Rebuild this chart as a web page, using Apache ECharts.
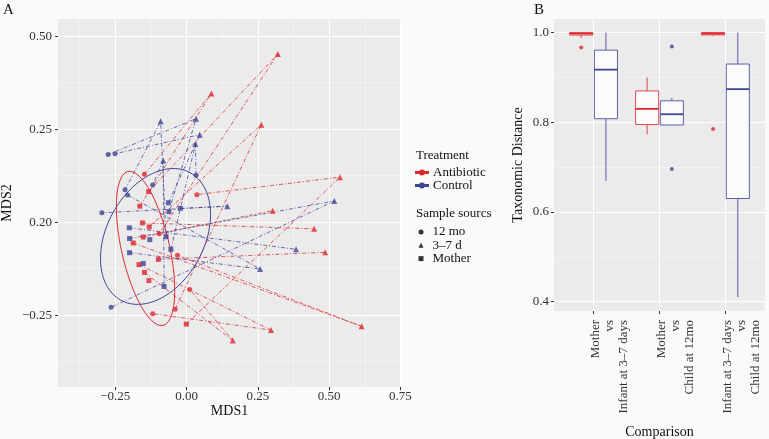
<!DOCTYPE html>
<html><head><meta charset="utf-8">
<script src="https://cdn.jsdelivr.net/npm/echarts@6/dist/echarts.min.js"></script>
<style>html,body{margin:0;padding:0;background:#fafafa}#c{width:769px;height:439px}</style>
</head><body><div id="c"></div>
<script>
// ---------- Panel A data (MDS1, MDS2) ----------
const antibioticMother = [[-0.133,0.082],[-0.164,0.043],[-0.155,-0.002],[-0.131,-0.013],[-0.152,-0.040],[-0.187,-0.056],[-0.099,-0.100],[-0.167,-0.114],[-0.148,-0.135],[-0.132,-0.157],[-0.001,-0.274]];
const antibioticInfant = [[0.320,0.452],[0.087,0.346],[0.262,0.262],[0.538,0.121],[0.302,0.031],[0.447,-0.018],[0.486,-0.081],[0.614,-0.280],[0.296,-0.290],[0.162,-0.318]];
const antibioticChild = [[-0.148,0.129],[0.036,0.074],[-0.096,-0.031],[-0.032,-0.089],[0.011,-0.181],[-0.040,-0.234],[-0.119,-0.246]];
const controlMother = [[-0.064,0.052],[-0.022,0.037],[-0.062,0.028],[-0.201,-0.015],[-0.072,-0.039],[-0.200,-0.044],[-0.129,-0.047],[-0.055,-0.073],[-0.200,-0.082],[-0.152,-0.111],[-0.079,-0.173]];
const controlInfant = [[-0.091,0.271],[0.033,0.278],[0.046,0.235],[-0.082,0.166],[0.031,0.210],[0.518,0.057],[0.143,0.043],[0.384,-0.073],[0.258,-0.126]];
const controlChild = [[-0.275,0.182],[-0.251,0.184],[0.033,0.126],[-0.119,0.100],[-0.216,0.087],[-0.207,0.073],[-0.297,0.025],[-0.265,-0.229]];
// subject paths: [mother index, 3-7 d index, 12 mo index] (-1 = missing)
const antibioticPaths = [[0,0,2],[1,1,0],[3,2,5],[10,3,1],[4,4,-1],[2,5,-1],[6,6,-1],[5,7,3],[7,8,6],[8,9,4]];
const controlPaths = [[2,1,0],[0,2,1],[4,0,4],[10,3,3],[7,4,2],[5,5,7],[1,6,6],[3,7,-1],[8,8,5]];
// confidence ellipses: centre and two conjugate semi-axes (data units)
const antibioticEllipse = {center:[-0.144,-0.0706], a:[-0.0614,0.2068], b:[0.082,0.0143]};
const controlEllipse = {center:[-0.109,-0.0384], a:[0.193,0.0591], b:[0,-0.1727]};
const xTicksA = [-0.25,0,0.25,0.5,0.75];
const xTickLabelsA = ['\u22120.25','0.00','0.25','0.50','0.75'];
const yTicksA = [-0.25,0,0.25,0.5];
const yTickLabelsA = ['\u22120.25','0.20','0.25','0.50'];

// ---------- Panel B data ----------
const comparisons = ['Mother\nvs\nInfant at 3\u20137 days','Mother\nvs\nChild at 12mo','Infant at 3\u20137 days\nvs\nChild at 12mo'];
// [min, Q1, median, Q3, max]
const antibioticBox = [[0.988,0.9947,0.998,1.0,1.0],[0.773,0.795,0.830,0.870,0.900],[0.992,0.995,0.998,1.0,1.0]];
const controlBox = [[0.669,0.808,0.9175,0.961,1.0],[0.793,0.794,0.818,0.848,0.854],[0.410,0.630,0.874,0.930,1.0]];
const antibioticOutliers = [[1,0.967],[3,0.785]];
const controlOutliers = [[2,0.969],[2,0.696]];
const yTicksB = [0.4,0.6,0.8,1.0];

const RED='#e0262c', BLUE='#3d4595';
const RED_BOX='#e0474c', BLUE_BOX='#5b60a6';
const FONT='Liberation Serif';

function ellipsePoints(e){
  const pts=[];
  for(let i=0;i<=120;i++){const t=i/120*2*Math.PI;
    pts.push([e.center[0]+e.a[0]*Math.cos(t)+e.b[0]*Math.sin(t), e.center[1]+e.a[1]*Math.cos(t)+e.b[1]*Math.sin(t)]);}
  return pts;
}
function pathData(paths,M,T,C){
  return paths.map(p=>{const c=[];
    if(p[0]>=0)c.push(M[p[0]]); if(p[1]>=0)c.push(T[p[1]]); if(p[2]>=0)c.push(C[p[2]]);
    return {coords:c};});
}
function boxRender(offset, stroke, medColor){
  return function(params, api){
    const x=api.value(0)+offset;
    const lo=api.coord([x,api.value(1)]), q1=api.coord([x,api.value(2)]), md=api.coord([x,api.value(3)]), q3=api.coord([x,api.value(4)]), hi=api.coord([x,api.value(5)]);
    const half=api.size([0.35,0])[0]/2;
    return {type:'group',children:[
      {type:'line',shape:{x1:lo[0],y1:lo[1],x2:q1[0],y2:q1[1]},style:{stroke:stroke,lineWidth:1}},
      {type:'line',shape:{x1:q3[0],y1:q3[1],x2:hi[0],y2:hi[1]},style:{stroke:stroke,lineWidth:1}},
      {type:'rect',shape:{x:q1[0]-half,y:q3[1],width:half*2,height:Math.max(q1[1]-q3[1],0.5)},style:{fill:'#fbfbfd',stroke:stroke,lineWidth:1}},
      {type:'line',shape:{x1:md[0]-half,y1:md[1],x2:md[0]+half,y2:md[1]},style:{stroke:medColor,lineWidth:1.8}}
    ]};
  };
}
const tickText={fontFamily:FONT,fontSize:13,color:'#333'};
const nameText={fontFamily:FONT,fontSize:14,color:'#111'};
const dash=[4,2,1,2];
const lineIcon='path://M0 4.5h12v1H0zM6 3a2 2 0 1 0 0.01 0z';
const titleStyle={fontFamily:FONT,fontSize:13,fontWeight:'normal',color:'#111'};

const chart=echarts.init(document.getElementById('c'),null,{renderer:'canvas'});
chart.setOption({
  backgroundColor:'#fafafa',
  animation:false,
  textStyle:{fontFamily:FONT},
  title:[
    {text:'A',left:3,top:3,padding:0,textStyle:{fontFamily:FONT,fontSize:15,fontWeight:'normal',color:'#111'}},
    {text:'B',left:534,top:3,padding:0,textStyle:{fontFamily:FONT,fontSize:15,fontWeight:'normal',color:'#111'}},
    {text:'Treatment',left:416,top:149,padding:0,textStyle:titleStyle},
    {text:'Sample sourcs',left:416,top:207,padding:0,textStyle:titleStyle}
  ],
  legend:[
    {left:415,top:166,padding:0,orient:'vertical',itemWidth:12,itemHeight:8,itemGap:0,
     textStyle:{fontFamily:FONT,fontSize:13,color:'#111',lineHeight:11.5},
     data:[{name:'Antibiotic',icon:lineIcon,itemStyle:{color:RED}},
           {name:'Control',icon:lineIcon,itemStyle:{color:BLUE}}]},
    {left:418.5,top:225.5,padding:0,orient:'vertical',itemWidth:5,itemHeight:5,itemGap:0.3,
     textStyle:{fontFamily:FONT,fontSize:13,color:'#111',lineHeight:12,padding:[0,0,0,4]},
     data:[{name:'12 mo',icon:'circle',itemStyle:{color:'#000'}},
           {name:'3\u20137 d',icon:'triangle',itemStyle:{color:'#000'}},
           {name:'Mother',icon:'rect',itemStyle:{color:'#000'}}]}
  ],
  grid:[
    {left:58,top:19,width:343,height:368,show:true,backgroundColor:'#ebebeb',borderWidth:0,outerBoundsMode:'none',containLabel:false},
    {left:554,top:19,width:211,height:292,show:true,backgroundColor:'#ebebeb',borderWidth:0,outerBoundsMode:'none',containLabel:false}
  ],
  xAxis:[
    {gridIndex:0,type:'value',min:-0.451,max:0.752,name:'MDS1',nameLocation:'middle',nameGap:17,nameMoveOverlap:false,nameTextStyle:nameText,
     axisLine:{show:false,onZero:false},axisTick:{show:true,length:3,lineStyle:{color:'#333'},customValues:xTicksA},
     axisLabel:Object.assign({customValues:xTicksA,margin:3,formatter:v=>xTickLabelsA[xTicksA.findIndex(t=>Math.abs(t-v)<1e-6)]},tickText),
     splitLine:{show:true,lineStyle:{color:'#ffffff',width:1.1}}},
    {gridIndex:0,type:'value',min:-0.451,max:0.752,position:'bottom',
     axisLine:{show:false,onZero:false},axisTick:{show:false,customValues:[-0.375,-0.125,0.125,0.375,0.625]},axisLabel:{show:false},
     splitLine:{show:true,lineStyle:{color:'#f7f7f7',width:0.6}}},
    {gridIndex:1,type:'value',min:0.4,max:3.6,name:'Comparison',nameLocation:'middle',nameGap:114,nameMoveOverlap:false,nameTextStyle:nameText,
     axisLine:{show:false,onZero:false},axisTick:{show:true,length:3,lineStyle:{color:'#333'},customValues:[1,2,3]},
     axisLabel:Object.assign({customValues:[1,2,3],rotate:90,margin:9,align:'right',verticalAlign:'top',lineHeight:14,padding:[-5,0,0,0],
       showMinLabel:true,showMaxLabel:true,hideOverlap:false,
       formatter:v=>comparisons[Math.round(v)-1]},tickText),
     splitLine:{show:true,lineStyle:{color:'#ffffff',width:1.1}}}
  ],
  yAxis:[
    {gridIndex:0,type:'value',min:-0.443,max:0.546,name:'MDS2',nameLocation:'middle',nameGap:44,nameMoveOverlap:false,nameTextStyle:nameText,
     axisLine:{show:false,onZero:false},axisTick:{show:true,length:3,lineStyle:{color:'#333'},customValues:yTicksA},
     axisLabel:Object.assign({customValues:yTicksA,margin:6,formatter:v=>yTickLabelsA[yTicksA.findIndex(t=>Math.abs(t-v)<1e-6)]},tickText),
     splitLine:{show:true,lineStyle:{color:'#ffffff',width:1.1}}},
    {gridIndex:0,type:'value',min:-0.443,max:0.546,position:'left',
     axisLine:{show:false,onZero:false},axisTick:{show:false,customValues:[-0.375,-0.125,0.125,0.375]},axisLabel:{show:false},
     splitLine:{show:true,lineStyle:{color:'#f7f7f7',width:0.6}}},
    {gridIndex:1,type:'value',min:0.379,max:1.0305,name:'Taxonomic Distance',nameLocation:'middle',nameGap:29,nameMoveOverlap:false,nameTextStyle:nameText,
     axisLine:{show:false,onZero:false},axisTick:{show:true,length:3,lineStyle:{color:'#333'},customValues:yTicksB},
     axisLabel:Object.assign({customValues:yTicksB,margin:5,formatter:v=>v.toFixed(1)},tickText),
     splitLine:{show:true,lineStyle:{color:'#ffffff',width:1.1}}},
    {gridIndex:1,type:'value',min:0.379,max:1.0305,position:'left',
     axisLine:{show:false,onZero:false},axisTick:{show:false,customValues:[0.5,0.7,0.9]},axisLabel:{show:false},
     splitLine:{show:true,lineStyle:{color:'#f7f7f7',width:0.6}}}
  ],
  series:[
    {name:'Antibiotic',type:'lines',coordinateSystem:'cartesian2d',xAxisIndex:0,yAxisIndex:0,polyline:true,z:2,
     lineStyle:{color:RED,width:0.9,type:dash,opacity:0.85},data:pathData(antibioticPaths,antibioticMother,antibioticInfant,antibioticChild)},
    {name:'Control',type:'lines',coordinateSystem:'cartesian2d',xAxisIndex:0,yAxisIndex:0,polyline:true,z:2,
     lineStyle:{color:BLUE,width:0.9,type:dash,opacity:0.85},data:pathData(controlPaths,controlMother,controlInfant,controlChild)},
    {name:'Antibiotic ellipse',type:'line',xAxisIndex:0,yAxisIndex:0,showSymbol:false,z:3,silent:true,
     lineStyle:{color:RED,width:1},data:ellipsePoints(antibioticEllipse)},
    {name:'Control ellipse',type:'line',xAxisIndex:0,yAxisIndex:0,showSymbol:false,z:3,silent:true,
     lineStyle:{color:BLUE,width:1},data:ellipsePoints(controlEllipse)},
    {name:'Mother',type:'scatter',xAxisIndex:0,yAxisIndex:0,symbol:'rect',symbolSize:5,z:4,itemStyle:{color:RED},data:antibioticMother},
    {name:'3\u20137 d',type:'scatter',xAxisIndex:0,yAxisIndex:0,symbol:'triangle',symbolSize:6,z:4,itemStyle:{color:RED},data:antibioticInfant},
    {name:'12 mo',type:'scatter',xAxisIndex:0,yAxisIndex:0,symbol:'circle',symbolSize:5,z:4,itemStyle:{color:RED},data:antibioticChild},
    {name:'Mother',type:'scatter',xAxisIndex:0,yAxisIndex:0,symbol:'rect',symbolSize:5,z:4,itemStyle:{color:BLUE},data:controlMother},
    {name:'3\u20137 d',type:'scatter',xAxisIndex:0,yAxisIndex:0,symbol:'triangle',symbolSize:6,z:4,itemStyle:{color:BLUE},data:controlInfant},
    {name:'12 mo',type:'scatter',xAxisIndex:0,yAxisIndex:0,symbol:'circle',symbolSize:5,z:4,itemStyle:{color:BLUE},data:controlChild},
    {name:'Antibiotic box',type:'custom',xAxisIndex:2,yAxisIndex:2,renderItem:boxRender(-0.1875,RED_BOX,RED),encode:{x:0,y:[1,2,3,4,5]},z:3,
     data:antibioticBox.map((b,i)=>[i+1].concat(b))},
    {name:'Control box',type:'custom',xAxisIndex:2,yAxisIndex:2,renderItem:boxRender(0.1875,BLUE_BOX,BLUE),encode:{x:0,y:[1,2,3,4,5]},z:3,
     data:controlBox.map((b,i)=>[i+1].concat(b))},
    {name:'Antibiotic outliers',type:'scatter',xAxisIndex:2,yAxisIndex:2,symbolSize:4,z:4,itemStyle:{color:RED},
     data:antibioticOutliers.map(o=>[o[0]-0.1875,o[1]])},
    {name:'Control outliers',type:'scatter',xAxisIndex:2,yAxisIndex:2,symbolSize:4,z:4,itemStyle:{color:BLUE},
     data:controlOutliers.map(o=>[o[0]+0.1875,o[1]])}
  ]
});
</script></body></html>
